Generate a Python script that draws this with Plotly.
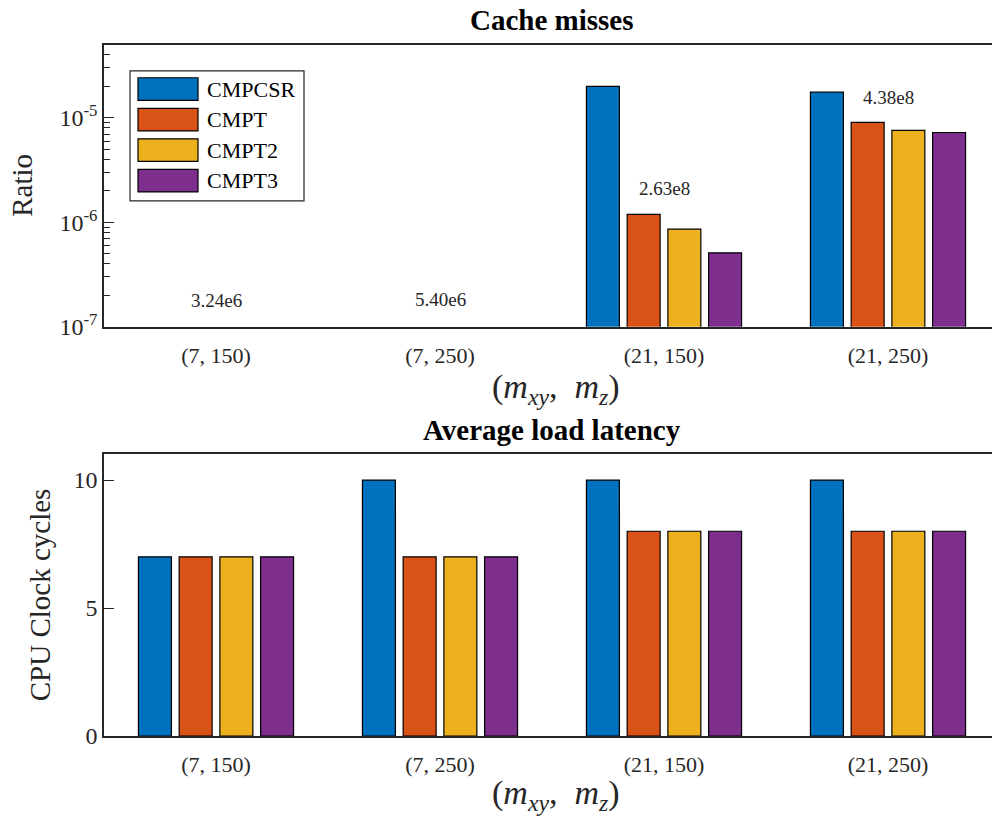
import plotly.graph_objects as go

# ---- data ----
categories = ["(7, 150)", "(7, 250)", "(21, 150)", "(21, 250)"]
series_names = ["CMPCSR", "CMPT", "CMPT2", "CMPT3"]
series_colors = ["#0072BD", "#D95319", "#EDB120", "#7E2F8E"]

# cache-miss ratio per configuration (no bars for the small problems)
miss_cmpcsr = [None, None, 2.00e-5, 1.76e-5]
miss_cmpt = [None, None, 1.19e-6, 9.06e-6]
miss_cmpt2 = [None, None, 8.6e-7, 7.6e-6]
miss_cmpt3 = [None, None, 5.1e-7, 7.24e-6]
miss_series = [miss_cmpcsr, miss_cmpt, miss_cmpt2, miss_cmpt3]

# total access counts printed above each group
total_labels = ["3.24e6", "5.40e6", "2.63e8", "4.38e8"]
total_label_logy = [-6.75, -6.74, -5.68, -4.81]

# average load latency in CPU clock cycles
lat_cmpcsr = [7, 10, 10, 10]
lat_cmpt = [7, 7, 8, 8]
lat_cmpt2 = [7, 7, 8, 8]
lat_cmpt3 = [7, 7, 8, 8]
lat_series = [lat_cmpcsr, lat_cmpt, lat_cmpt2, lat_cmpt3]

log_ticks = [1e-7, 1e-6, 1e-5]
log_ticktext = ["10<sup>-7</sup>", "10<sup>-6</sup>", "10<sup>-5</sup>"]
log_minor = [m * 10.0 ** e for e in (-7, -6, -5) for m in range(2, 10) if m * 10.0 ** e <= 5e-5]
lin_ticks = [0, 5, 10]

# ---- page geometry (pixels) ----
W, H = 992, 831
FONT = "Liberation Serif, Times New Roman, DejaVu Serif, serif"
AX = "#262626"
LEFT = 104
CAT_W = 224          # pixels per category
RIGHT_FULL = LEFT + 4 * CAT_W
x_hi = -0.5 + (W - LEFT) / CAT_W   # visible part of the category range

def px(x):
    return x / W

def py(y):
    return 1 - y / H

top_dom = [py(332), py(45.5)]
bot_dom = [py(747.7), py(461.7)]

fig = go.Figure()

for name, color, vals in zip(series_names, series_colors, miss_series):
    fig.add_trace(go.Bar(x=categories, y=vals, name=name, marker_color=color,
                         marker_line=dict(color="#000000", width=1.2),
                         xaxis="x", yaxis="y", showlegend=False))

for name, color, vals in zip(series_names, series_colors, lat_series):
    fig.add_trace(go.Bar(x=categories, y=vals, name=name, marker_color=color,
                         marker_line=dict(color="#000000", width=1.2),
                         xaxis="x2", yaxis="y2", showlegend=False))

axis_common = dict(showline=True, linecolor=AX, linewidth=1.5,
                   tickfont=dict(family=FONT, size=22, color=AX),
                   showgrid=False, zeroline=False)

xa = dict(axis_common, domain=[px(LEFT), 1], type="category",
          categoryorder="array", categoryarray=categories,
          range=[-0.5, x_hi], ticks="", mirror=True, ticklabelstandoff=8)

fig.update_layout(
    autosize=True,
    margin=dict(l=0, r=0, t=0, b=0),
    paper_bgcolor="white", plot_bgcolor="white",
    font=dict(family=FONT, color=AX),
    barmode="group", bargap=0.273, bargroupgap=0.19,
    xaxis=dict(xa, anchor="y"),
    yaxis=dict(axis_common, domain=top_dom, anchor="x", type="log",
               range=[-7, -4.301], tickmode="array", tickvals=log_ticks,
               ticktext=log_ticktext, ticks="inside", ticklen=10,
               tickcolor=AX, tickwidth=1.2,
               tickfont=dict(family=FONT, size=24, color=AX),
               minor=dict(tickmode="array", tickvals=log_minor, ticks="inside",
                          ticklen=6, tickcolor=AX, tickwidth=1)),
    xaxis2=dict(xa, anchor="y2"),
    yaxis2=dict(axis_common, domain=bot_dom, anchor="x2", range=[0, 11],
                tickmode="array", tickvals=lin_ticks, ticks="inside",
                ticklen=10, tickcolor=AX, tickwidth=1.2,
                tickfont=dict(family=FONT, size=24, color=AX)),
    showlegend=False,
)

ann = []
center_x = px((LEFT + RIGHT_FULL) / 2)

# subplot titles
for text, y in (("Cache misses", 20), ("Average load latency", 437)):
    ann.append(dict(text=f"<b>{text}</b>", x=center_x, y=py(y), xref="paper", yref="paper",
                    xanchor="center", yanchor="middle", showarrow=False,
                    font=dict(family=FONT, size=29, color="#000000")))

# x-axis titles
xtitle = "(<i>m</i><sub><i>xy</i></sub>,\u2002<i>m</i><sub><i>z</i></sub>)"
for y in (395, 808):
    ann.append(dict(text=xtitle, x=px(556), y=py(y), xref="paper", yref="paper",
                    xanchor="center", yanchor="middle", showarrow=False,
                    font=dict(family=FONT, size=34, color=AX)))

# y-axis titles
ann.append(dict(text="Ratio", x=px(22), y=py(188.7), xref="paper", yref="paper",
                textangle=-90, xanchor="center", yanchor="middle", showarrow=False,
                font=dict(family=FONT, size=29, color=AX)))
ann.append(dict(text="CPU Clock cycles", x=px(40), y=py(604.7), xref="paper", yref="paper",
                textangle=-90, xanchor="center", yanchor="middle", showarrow=False,
                font=dict(family=FONT, size=29, color=AX)))

# total counts above each group
for cat, label, ly in zip(categories, total_labels, total_label_logy):
    ann.append(dict(text=label, x=cat, y=ly, xref="x", yref="y",
                    xanchor="center", yanchor="middle", showarrow=False,
                    font=dict(family=FONT, size=19, color=AX)))

# legend box with wide colour swatches
shapes = []
shapes.append(dict(type="rect", xref="paper", yref="paper",
                   x0=px(130), x1=px(304), y0=py(204), y1=py(72),
                   line=dict(color=AX, width=1.2), fillcolor="white", layer="above"))
row_top = [79, 110, 141, 172]
for name, color, top in zip(series_names, series_colors, row_top):
    shapes.append(dict(type="rect", xref="paper", yref="paper",
                       x0=px(138), x1=px(198), y0=py(top + 23), y1=py(top),
                       line=dict(color="#000000", width=1.2), fillcolor=color, layer="above"))
    ann.append(dict(text=name, x=px(205), y=py(top + 11.5), xref="paper", yref="paper",
                    xanchor="left", yanchor="middle", showarrow=False,
                    font=dict(family=FONT, size=22, color="#000000")))

fig.update_layout(annotations=ann, shapes=shapes)

fig.write_html("out.html")
